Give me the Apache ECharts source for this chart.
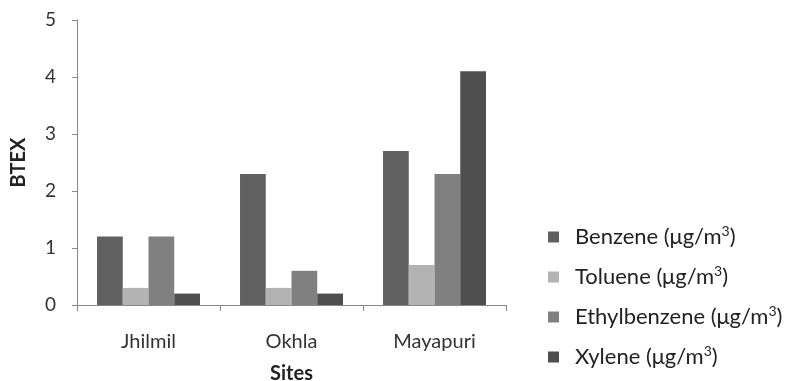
<!DOCTYPE html>
<html>
<head>
<meta charset="utf-8">
<script src="https://cdn.jsdelivr.net/npm/echarts@6/dist/echarts.min.js"></script>
<style>
  html, body { margin: 0; padding: 0; background: #fff; }
  #chart { width: 786px; height: 381px; }
</style>
</head>
<body>
<div id="chart"></div>
<script>
// BTEX concentrations by monitoring site
const sites = ['Jhilmil', 'Okhla', 'Mayapuri'];
const seriesNames = ['Benzene', 'Toluene', 'Ethylbenzene', 'Xylene'];
const benzene = [1.2, 2.3, 2.7];
const toluene = [0.3, 0.3, 0.7];
const ethylbenzene = [1.2, 0.6, 2.3];
const xylene = [0.2, 0.2, 4.1];
const yTicks = [0, 1, 2, 3, 4, 5];
const colors = ['#606060', '#b3b3b3', '#808080', '#4f4f4f'];

const font = 'Lato, "Open Sans", sans-serif';
const values = [benzene, toluene, ethylbenzene, xylene];

const chart = echarts.init(document.getElementById('chart'), null, { renderer: 'canvas' });

chart.setOption({
  animation: false,
  grid: { left: 77, right: 280, top: 20, bottom: 76, containLabel: false, outerBoundsMode: 'none' },
  legend: {
    orient: 'vertical',
    left: 543,
    top: 219,
    itemWidth: 11,
    itemHeight: 11,
    itemGap: 13,
    icon: 'rect',
    data: seriesNames,
    formatter: name => '{a|' + name + ' (μg/m}{s|3}{a|)}',
    textStyle: {
      fontFamily: font,
      color: '#222',
      padding: [0, 0, 0, 11],
      rich: {
        a: { fontFamily: font, fontSize: 22, color: '#222', lineHeight: 26 },
        s: { fontFamily: font, fontSize: 14, color: '#222', lineHeight: 26, verticalAlign: 'top', padding: [0, 0, 13, 0] }
      }
    }
  },
  xAxis: {
    type: 'category',
    data: sites,
    name: 'Sites',
    nameLocation: 'middle',
    nameGap: 59,
    nameTextStyle: { fontFamily: font, fontSize: 20, fontWeight: 'bold', color: '#222' },
    axisLine: { lineStyle: { color: '#888', width: 1 } },
    axisTick: { show: true, length: 6, lineStyle: { color: '#888' } },
    axisLabel: { fontFamily: font, fontSize: 20, color: '#333', margin: 27 }
  },
  yAxis: {
    type: 'value',
    min: yTicks[0],
    max: yTicks[yTicks.length - 1],
    interval: 1,
    name: 'BTEX',
    nameLocation: 'middle',
    nameGap: 48,
    nameRotate: 90,
    nameTextStyle: { fontFamily: font, fontSize: 20, fontWeight: 'bold', color: '#222' },
    splitLine: { show: false },
    axisLine: { show: true, lineStyle: { color: '#888', width: 1 } },
    axisTick: { show: true, length: 5, lineStyle: { color: '#888' } },
    axisLabel: { fontFamily: font, fontSize: 19, color: '#333', margin: 21 }
  },
  series: seriesNames.map((name, i) => ({
    name: name,
    type: 'bar',
    data: values[i],
    barGap: '0%',
    barCategoryGap: '28%',
    itemStyle: { color: colors[i] }
  }))
});
</script>
</body>
</html>
